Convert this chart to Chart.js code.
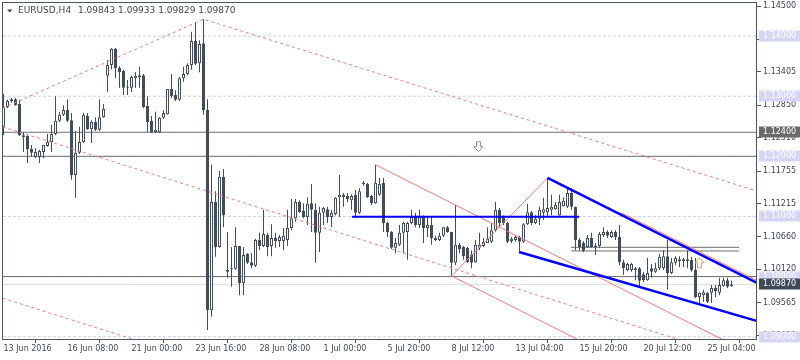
<!DOCTYPE html>
<html>
<head>
<meta charset="utf-8">
<title>EURUSD H4</title>
<script src="https://cdn.jsdelivr.net/npm/chart.js@4.4.0/dist/chart.umd.min.js"></script>
<style>
  html, body { margin: 0; padding: 0; background: #ffffff; }
  #wrap { width: 800px; height: 360px; }
</style>
</head>
<body>
<div id="wrap"><canvas id="chart" width="800" height="360"></canvas></div>
<script>
/* EURUSD H4 candles, one entry per bar (bar 0 = left edge) */

const openP = [
  1.1249, 1.1282, 1.1292, 1.1295, 1.1287, 1.1235, 1.1234, 1.1212, 1.1199, 1.1199,
  1.1207, 1.1217, 1.1224, 1.1237, 1.1259, 1.1269, 1.1277, 1.1260, 1.1169, 1.1206,
  1.1224, 1.1267, 1.1245, 1.1257, 1.1244, 1.1265, 1.1334, 1.1352, 1.1379, 1.1347,
  1.1342, 1.1315, 1.1314, 1.1330, 1.1332, 1.1335, 1.1284, 1.1259, 1.1240, 1.1240,
  1.1264, 1.1270, 1.1312, 1.1302, 1.1294, 1.1330, 1.1337, 1.1352, 1.1392, 1.1355,
  1.1388, 1.1277, 1.0944, 1.1124, 1.1049, 1.1166, 1.1011, 1.1013, 1.1013, 1.1051,
  1.0989, 1.1038, 1.1024, 1.1018, 1.1061, 1.1051, 1.1069, 1.1051, 1.1064, 1.1059,
  1.1059, 1.1061, 1.1081, 1.1097, 1.1124, 1.1109, 1.1099, 1.1122, 1.1111, 1.1073,
  1.1106, 1.1112, 1.1099, 1.1104, 1.1132, 1.1136, 1.1134, 1.1127, 1.1136, 1.1106,
  1.1154, 1.1154, 1.1134, 1.1122, 1.1136, 1.1156, 1.1089, 1.1074, 1.1048, 1.1053,
  1.1073, 1.1074, 1.1089, 1.1099, 1.1086, 1.1099, 1.1081, 1.1086, 1.1064, 1.1061,
  1.1068, 1.1082, 1.1074, 1.1023, 1.1053, 1.1049, 1.1048, 1.1036, 1.1024, 1.1048,
  1.1051, 1.1056, 1.1058, 1.1077, 1.1111, 1.1099, 1.1089, 1.1059, 1.1061, 1.1066,
  1.1058, 1.1087, 1.1107, 1.1089, 1.1096, 1.1106, 1.1107, 1.1111, 1.1112, 1.1102,
  1.1117, 1.1116, 1.1139, 1.1116, 1.1061, 1.1056, 1.1049, 1.1064, 1.1051, 1.1051,
  1.1069, 1.1074, 1.1066, 1.1074, 1.1066, 1.1024, 1.1011, 1.1011, 1.1014, 1.1014,
  1.1004, 1.0994, 1.1014, 1.1008, 1.1014, 1.1014, 1.1034, 1.1006, 1.1023, 1.1029,
  1.1026, 1.1029, 1.1028, 1.1011, 1.0966, 1.0969, 1.0973, 1.0973, 1.0981, 1.0973,
  1.0984, 1.0994, 1.09843
];
const highP = [
  1.1304, 1.1294, 1.1297, 1.1297, 1.1294, 1.1240, 1.1235, 1.1219, 1.1214, 1.1211,
  1.1219, 1.1237, 1.1252, 1.1300, 1.1274, 1.1285, 1.1295, 1.1272, 1.1242, 1.1249,
  1.1272, 1.1272, 1.1260, 1.1265, 1.1295, 1.1287, 1.1360, 1.1380, 1.1380, 1.1350,
  1.1344, 1.1327, 1.1334, 1.1340, 1.1349, 1.1337, 1.1300, 1.1267, 1.1274, 1.1265,
  1.1277, 1.1312, 1.1337, 1.1310, 1.1332, 1.1349, 1.1355, 1.1407, 1.1423, 1.1393,
  1.1428, 1.1295, 1.1186, 1.1142, 1.1176, 1.1179, 1.1074, 1.1049, 1.1082, 1.1051,
  1.1049, 1.1039, 1.1039, 1.1063, 1.1073, 1.1111, 1.1073, 1.1087, 1.1073, 1.1069,
  1.1081, 1.1111, 1.1129, 1.1129, 1.1127, 1.1122, 1.1132, 1.1154, 1.1122, 1.1116,
  1.1116, 1.1116, 1.1111, 1.1132, 1.1169, 1.1139, 1.1139, 1.1137, 1.1144, 1.1147,
  1.1159, 1.1156, 1.1136, 1.1186, 1.1164, 1.1164, 1.1091, 1.1076, 1.1064, 1.1086,
  1.1091, 1.1091, 1.1111, 1.1106, 1.1111, 1.1102, 1.1099, 1.1099, 1.1068, 1.1073,
  1.1082, 1.1084, 1.1074, 1.1119, 1.1056, 1.1051, 1.1049, 1.1044, 1.1061, 1.1073,
  1.1064, 1.1082, 1.1089, 1.1124, 1.1114, 1.1102, 1.1091, 1.1066, 1.1069, 1.1068,
  1.1089, 1.1121, 1.1109, 1.1102, 1.1116, 1.1131, 1.1164, 1.1136, 1.1124, 1.1136,
  1.1132, 1.1146, 1.1147, 1.1116, 1.1064, 1.1059, 1.1069, 1.1073, 1.1056, 1.1074,
  1.1082, 1.1077, 1.1077, 1.1077, 1.1086, 1.1028, 1.1023, 1.1023, 1.1016, 1.1016,
  1.1008, 1.1031, 1.1021, 1.1023, 1.1038, 1.1044, 1.1061, 1.1031, 1.1034, 1.1034,
  1.1031, 1.1044, 1.1033, 1.1031, 1.0974, 1.0978, 1.0974, 1.0986, 1.0986, 1.0998,
  1.0998, 1.0998, 1.09933
];
const lowP = [
  1.1235, 1.1280, 1.1289, 1.1284, 1.1234, 1.1207, 1.1189, 1.1199, 1.1197, 1.1189,
  1.1197, 1.1216, 1.1207, 1.1235, 1.1257, 1.1267, 1.1257, 1.1161, 1.1131, 1.1204,
  1.1222, 1.1244, 1.1222, 1.1242, 1.1242, 1.1264, 1.1307, 1.1345, 1.1330, 1.1314,
  1.1302, 1.1302, 1.1307, 1.1314, 1.1314, 1.1280, 1.1240, 1.1239, 1.1239, 1.1239,
  1.1262, 1.1269, 1.1297, 1.1292, 1.1292, 1.1324, 1.1335, 1.1344, 1.1352, 1.1340,
  1.1269, 1.0911, 1.0933, 1.1033, 1.1048, 1.1082, 1.0998, 1.0983, 1.1011, 1.0969,
  1.0969, 1.1021, 1.1014, 1.1016, 1.1044, 1.1049, 1.1034, 1.1034, 1.1048, 1.1049,
  1.1044, 1.1051, 1.1077, 1.1091, 1.1106, 1.1097, 1.1086, 1.1074, 1.1023, 1.1041,
  1.1086, 1.1089, 1.1082, 1.1102, 1.1099, 1.1116, 1.1124, 1.1111, 1.1097, 1.1104,
  1.1151, 1.1131, 1.1119, 1.1121, 1.1134, 1.1074, 1.1066, 1.1046, 1.1039, 1.1051,
  1.1039, 1.1028, 1.1087, 1.1082, 1.1081, 1.1056, 1.1066, 1.1053, 1.1059, 1.1059,
  1.1066, 1.1073, 1.1001, 1.1019, 1.1039, 1.1028, 1.1023, 1.1014, 1.1023, 1.1044,
  1.1049, 1.1056, 1.1056, 1.1074, 1.1082, 1.1086, 1.1056, 1.1056, 1.1058, 1.1039,
  1.1056, 1.1086, 1.1086, 1.1087, 1.1086, 1.1094, 1.1099, 1.1102, 1.1111, 1.1101,
  1.1116, 1.1114, 1.1111, 1.1044, 1.1044, 1.1041, 1.1048, 1.1048, 1.1036, 1.1048,
  1.1066, 1.1064, 1.1064, 1.1061, 1.1019, 1.1003, 1.1009, 1.1008, 1.0994, 1.0981,
  1.0991, 1.0993, 1.0998, 1.1006, 1.1011, 1.1011, 1.0978, 1.1004, 1.1019, 1.1016,
  1.1016, 1.1014, 1.1008, 1.0964, 1.0956, 1.0958, 1.0956, 1.0956, 1.0966, 1.0969,
  1.0983, 1.0981, 1.09829
];
const closeP = [
  1.1282, 1.1292, 1.1295, 1.1285, 1.1235, 1.1232, 1.1212, 1.1206, 1.1207, 1.1209,
  1.1219, 1.1224, 1.1237, 1.1259, 1.1269, 1.1277, 1.1259, 1.1169, 1.1206, 1.1224,
  1.1269, 1.1245, 1.1257, 1.1244, 1.1265, 1.1279, 1.1352, 1.1379, 1.1347, 1.1340,
  1.1314, 1.1314, 1.1332, 1.1334, 1.1335, 1.1282, 1.1257, 1.1240, 1.1244, 1.1264,
  1.1272, 1.1312, 1.1300, 1.1294, 1.1330, 1.1337, 1.1352, 1.1392, 1.1354, 1.1387,
  1.1277, 1.0944, 1.1124, 1.1049, 1.1166, 1.1102, 1.1008, 1.1014, 1.1051, 1.0989,
  1.1036, 1.1023, 1.1018, 1.1061, 1.1051, 1.1071, 1.1049, 1.1064, 1.1059, 1.1066,
  1.1068, 1.1081, 1.1097, 1.1124, 1.1107, 1.1099, 1.1121, 1.1111, 1.1073, 1.1106,
  1.1114, 1.1099, 1.1106, 1.1131, 1.1136, 1.1132, 1.1129, 1.1134, 1.1106, 1.1142,
  1.1156, 1.1132, 1.1122, 1.1156, 1.1154, 1.1089, 1.1074, 1.1048, 1.1056, 1.1073,
  1.1089, 1.1089, 1.1099, 1.1086, 1.1099, 1.1081, 1.1086, 1.1064, 1.1061, 1.1068,
  1.1082, 1.1074, 1.1023, 1.1053, 1.1046, 1.1034, 1.1024, 1.1023, 1.1053, 1.1053,
  1.1058, 1.1063, 1.1077, 1.1111, 1.1089, 1.1089, 1.1058, 1.1063, 1.1066, 1.1058,
  1.1087, 1.1107, 1.1089, 1.1096, 1.1111, 1.1112, 1.1114, 1.1116, 1.1119, 1.1124,
  1.1126, 1.1139, 1.1116, 1.1061, 1.1049, 1.1043, 1.1064, 1.1049, 1.1049, 1.1071,
  1.1074, 1.1068, 1.1074, 1.1066, 1.1024, 1.1014, 1.1021, 1.1021, 1.1011, 1.0993,
  1.0994, 1.1006, 1.1008, 1.1014, 1.1033, 1.1034, 1.1006, 1.1024, 1.1031, 1.1026,
  1.1029, 1.1026, 1.1011, 1.0966, 1.0973, 1.0974, 1.0958, 1.0981, 1.0976, 1.0986,
  1.0994, 1.0983, 1.09870
];

// time axis labels and the bar they sit on
const xTickBars = [0, 16, 32, 48, 64, 80, 96, 112, 128, 144, 160, 176];
const xTickLabels = ['13 Jun 2016', '16 Jun 08:00', '21 Jun 00:00', '23 Jun 16:00', '28 Jun 08:00',
  '1 Jul 00:00', '5 Jul 20:00', '8 Jul 12:00', '13 Jul 04:00', '15 Jul 20:00', '20 Jul 12:00', '25 Jul 04:00'];

// price scale ticks
const yTicks = [1.14500, 1.13945, 1.13405, 1.12850, 1.12310, 1.11755, 1.11215, 1.10660, 1.10120, 1.09565, 1.09020];

// round levels (dashed, highlighted on the axis), plain grey levels, short grey box
const roundLevels = [1.14, 1.13, 1.12, 1.11, 1.10, 1.09];
const greyLevels = [1.124, 1.12, 1.10];
const boxLevels = [1.10487, 1.10426];
const boxFrom = 141.9, boxTo = 183.9;

// trend objects as [bar, price] pairs
const redDotUpper = [[-0.2, 1.1280], [50, 1.1428], [188.5, 1.1142]];
const redDotMid = [[-0.2, 1.1249], [188.5, 1.0854]];
const redDotLow = [[-0.2, 1.0964], [188.5, 1.0569]];
const redChanTop = [[93, 1.1186], [188.5, 1.0866]];
const redChanBot = [[112, 1.1001], [188.5, 1.0745]];
const redRise = [[112, 1.1001], [136, 1.1164]];
const redEdge = [[154.5, 1.1106], [188.5, 1.0993]];
const blueUpper = [[136, 1.1164], [188.5, 1.0989]];
const blueLower = [[128.9, 1.1041], [188.5, 1.0926]];
const blueFlat = [[87.1, 1.10995], [143.9, 1.10995]];

// arrow marks [bar, price, direction]
const arrows = [[118.75, 1.1216, 'down'], [174, 1.1023, 'up']];

const XMIN = -0.125, XMAX = 188.375;
const YMIN = 1.08962, YMAX = 1.1455;

const CANDLE = '#424d5c';
const TEXT = '#3d4654';
const FRAME = '#4a5563';
const RED = '#ee7b7b';
const BLUE = '#0000ff';
const LAVENDER = '#cdcdf2';
const GREY = '#6e6e6e';
const FONT = 'DejaVu Sans';

const last = closeP.length - 1;

function pts(list) { return list.map(p => ({ x: p[0], y: p[1] })); }
function seg(list, color, width, dash, order) {
  return {
    type: 'line', data: pts(list), borderColor: color, borderWidth: width,
    borderDash: dash || [], pointRadius: 0, fill: false, tension: 0, order: order
  };
}
function level(price, color, dash, order, from, to) {
  return seg([[from === undefined ? XMIN : from, price], [to === undefined ? XMAX : to, price]], color, 1, dash, order);
}

const datasets = [];
roundLevels.forEach(v => datasets.push(level(v, LAVENDER, [3, 2], 100)));
datasets.push(level(closeP[last], '#dcdcdc', [], 95));
greyLevels.forEach(v => datasets.push(level(v, GREY, [], 90)));
boxLevels.forEach(v => datasets.push(level(v, GREY, [], 90, boxFrom, boxTo)));

datasets.push({
  type: 'bar', label: 'wick', order: 50, grouped: false, barThickness: 1, inflateAmount: 0,
  data: openP.map((o, i) => ({ x: i, y: [lowP[i], highP[i]] })),
  backgroundColor: CANDLE, borderWidth: 0, minBarLength: 1
});
datasets.push({
  type: 'bar', label: 'body', order: 40, grouped: false, barThickness: 3, inflateAmount: 0,
  data: openP.map((o, i) => ({ x: i, y: [o, closeP[i]] })),
  backgroundColor: openP.map((o, i) => closeP[i] >= o ? '#ffffff' : CANDLE),
  borderColor: CANDLE, borderWidth: 1, borderSkipped: false, minBarLength: 1
});

datasets.push(seg(redDotUpper, RED, 1, [3, 3], 20));
datasets.push(seg(redDotMid, RED, 1, [3, 3], 20));
datasets.push(seg(redDotLow, RED, 1, [3, 3], 20));
datasets.push(seg(redChanTop, RED, 1, [], 20));
datasets.push(seg(redChanBot, RED, 1, [], 20));
datasets.push(seg(redRise, RED, 1, [], 20));
datasets.push(seg(blueUpper, BLUE, 2.5, [], 12));
datasets.push(seg(redEdge, RED, 1, [], 11));
datasets.push(seg(blueLower, BLUE, 2.5, [], 10));
datasets.push(seg(blueFlat, BLUE, 2, [], 10));

function drawArrow(ctx, cx, cy, dir, stroke, fill) {
  const s = dir === 'down' ? 1 : -1;
  ctx.beginPath();
  ctx.moveTo(cx - 2, cy - 5 * s);
  ctx.lineTo(cx + 2, cy - 5 * s);
  ctx.lineTo(cx + 2, cy);
  ctx.lineTo(cx + 4.5, cy);
  ctx.lineTo(cx, cy + 5 * s);
  ctx.lineTo(cx - 4.5, cy);
  ctx.lineTo(cx - 2, cy);
  ctx.closePath();
  ctx.fillStyle = fill;
  ctx.fill();
  ctx.strokeStyle = stroke;
  ctx.lineWidth = 1;
  ctx.stroke();
}

function priceBox(ctx, ys, price, bg) {
  const y = Math.round(ys.getPixelForValue(price));
  ctx.fillStyle = bg;
  ctx.fillRect(759, y - 5.5, 41, 11);
  ctx.fillStyle = '#ffffff';
  ctx.textBaseline = 'middle';
  ctx.textAlign = 'left';
  ctx.fillText(price.toFixed(5), 763, y);
}

const overlay = {
  id: 'overlay',
  afterDraw(chart) {
    const ctx = chart.ctx, xs = chart.scales.x, ys = chart.scales.y;
    ctx.save();
    // frame round the plot
    ctx.strokeStyle = FRAME;
    ctx.lineWidth = 1;
    ctx.strokeRect(2.5, 2.5, 754, 337);

    // arrows
    arrows.forEach(a => {
      const cx = xs.getPixelForValue(a[0]), cy = ys.getPixelForValue(a[1]);
      if (a[2] === 'down') drawArrow(ctx, cx, cy, 'down', '#8a93a0', '#ffffff');
      else drawArrow(ctx, cx, cy, 'up', '#e0a060', '#ffffff');
    });

    // highlighted price labels
    ctx.font = '8px "' + FONT + '"';
    roundLevels.forEach(v => priceBox(ctx, ys, v, '#d5d5f6'));
    priceBox(ctx, ys, 1.124, '#6a6a6a');
    priceBox(ctx, ys, closeP[last], '#3f4855');

    // title
    ctx.fillStyle = TEXT;
    ctx.beginPath();
    ctx.moveTo(7, 9.5); ctx.lineTo(12.5, 9.5); ctx.lineTo(9.75, 12.5); ctx.closePath();
    ctx.fill();
    ctx.font = '9px "' + FONT + '"';
    ctx.textBaseline = 'middle';
    ctx.textAlign = 'left';
    ctx.fillText('EURUSD,H4', 18, 11);
    ctx.fillText([openP[last], highP[last], lowP[last], closeP[last]].map(v => v.toFixed(5)).join(' '), 78, 11);
    ctx.restore();
  }
};

Chart.defaults.font.family = FONT;

new Chart(document.getElementById('chart'), {
  type: 'bar',
  data: { datasets },
  options: {
    responsive: false,
    animation: false,
    devicePixelRatio: 1,
    events: [],
    layout: { padding: { left: 3, top: 3, right: 0, bottom: 0 } },
    plugins: { legend: { display: false }, tooltip: { enabled: false } },
    scales: {
      x: {
        type: 'linear', min: XMIN, max: XMAX, offset: false,
        border: { display: false },
        grid: { drawOnChartArea: false, drawTicks: true, tickLength: 4, color: FRAME },
        afterBuildTicks: s => { s.ticks = xTickBars.map(v => ({ value: v })); },
        afterFit: s => { s.height = 21; s.paddingLeft = 0; s.paddingRight = 0; },
        ticks: {
          autoSkip: false, maxRotation: 0, minRotation: 0, align: 'start', padding: 1,
          color: TEXT, font: { size: 8 },
          callback: (v, idx) => xTickLabels[idx]
        }
      },
      y: {
        type: 'linear', position: 'right', min: YMIN, max: YMAX,
        border: { display: false },
        grid: { drawOnChartArea: false, drawTicks: true, tickLength: 4, color: FRAME },
        afterBuildTicks: s => { s.ticks = yTicks.map(v => ({ value: v })); },
        afterFit: s => { s.width = 43; s.paddingTop = 0; s.paddingBottom = 0; },
        ticks: {
          autoSkip: false, padding: 2, color: TEXT, font: { size: 8 },
          callback: v => Number(v).toFixed(5)
        }
      }
    }
  },
  plugins: [overlay]
});
</script>
</body>
</html>
